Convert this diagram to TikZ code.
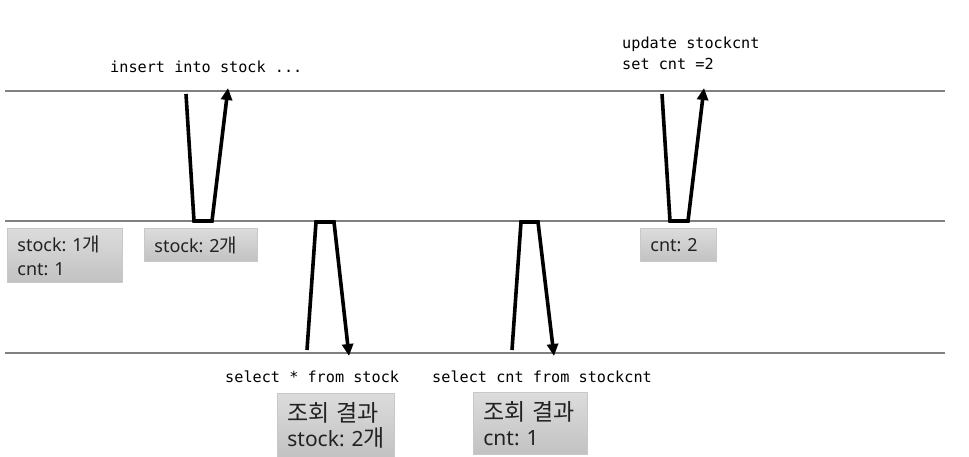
\documentclass[tikz,border=0pt]{standalone}
\usepackage{fontspec}
\setmainfont{Noto Sans}
\setmonofont{DejaVu Sans Mono}
\newfontfamily\krfont{Noto Sans CJK KR}
\newcommand{\kor}[1]{{\krfont\fontsize{\korsize}{\korsize}\selectfont #1}}
\newcommand{\korsize}{19}
\frenchspacing
\usetikzlibrary{arrows.meta}
\definecolor{lanegray}{HTML}{808080}
\definecolor{boxtop}{HTML}{DCDCDC}
\definecolor{boxbot}{HTML}{C2C2C2}
\definecolor{boxedge}{HTML}{C8C8C8}
\definecolor{txt}{HTML}{222222}
\tikzset{
  lane/.style={draw=lanegray, line width=2.6pt},
  flow/.style={draw=black, line width=3.6pt, line join=miter},
  flowarrow/.style={flow, -{Triangle[length=12pt,width=11pt]}},
  sql/.style={font=\ttfamily\fontsize{15.2}{21}\selectfont, text=black, inner sep=0pt, align=left},
  valbox/.style={draw=boxedge, line width=0.8pt, top color=boxtop, bottom color=boxbot,
    font=\frenchspacing\fontsize{18}{24}\selectfont\renewcommand{\korsize}{19}, text=txt, align=left, anchor=north west,
    inner xsep=10pt, inner ysep=0pt},
  resbox/.style={valbox, font=\frenchspacing\fontsize{21}{25}\selectfont\renewcommand{\korsize}{23}, inner xsep=10pt},
}
\begin{document}
\begin{tikzpicture}[x=1pt,y=-1pt]
\useasboundingbox (0,0) rectangle (969,456);
% lanes
\coordinate (t1) at (5,91); \coordinate (t2) at (945,91);
\coordinate (m1) at (5,221); \coordinate (m2) at (945,221);
\coordinate (b1) at (5,353); \coordinate (b2) at (945,353);
\draw[lane] (t1) -- (t2);
\draw[lane] (m1) -- (m2);
\draw[lane] (b1) -- (b2);

% insert
\coordinate (ia) at (186,94);
\coordinate (ib) at (194,221);
\coordinate (ic) at (212,221);
\coordinate (id) at (228,88);
\draw[flowarrow] (ia) -- (ib) -- (ic) -- (id);

% update
\coordinate (ua) at (662,94);
\coordinate (ub) at (670,221);
\coordinate (uc) at (688,221);
\coordinate (ud) at (704,88);
\draw[flowarrow] (ua) -- (ub) -- (uc) -- (ud);

% select 1
\coordinate (sa) at (307,350);
\coordinate (sb) at (316,222);
\coordinate (sc) at (334,222);
\coordinate (sd) at (349,356);
\draw[flowarrow] (sa) -- (sb) -- (sc) -- (sd);

% select 2
\coordinate (ra) at (512,350);
\coordinate (rb) at (521,222);
\coordinate (rc) at (538,222);
\coordinate (rd) at (554,356);
\draw[flowarrow] (ra) -- (rb) -- (rc) -- (rd);

% sql texts
\node[sql, anchor=west] (qins) at (110,67) {insert into stock ...};
\node[sql, anchor=north west] (qupd) at (622,37) {update stockcnt\\set cnt =2};
\node[sql, anchor=west] (qsel1) at (225,377) {select * from stock};
\node[sql, anchor=west] (qsel2) at (432,377) {select cnt from stockcnt};

% value boxes
\node[valbox, minimum width=115pt, minimum height=54pt, text width=95pt] (v1) at (7,228) {stock:~1\kor{개}\\cnt: 1};
\node[valbox, minimum width=113pt, minimum height=33pt, text width=93pt] (v2) at (144,228) {stock:~2\kor{개}};
\node[valbox, minimum width=76pt, minimum height=33pt, text width=56pt] (v3) at (640,228) {cnt: 2};
\node[resbox, minimum width=117pt, minimum height=64pt, text width=97pt] (r1) at (277,393) {\kor{조회 결과}\\stock:~2\kor{개}};
\node[resbox, minimum width=114pt, minimum height=62pt, text width=94pt] (r2) at (473,392) {\kor{조회 결과}\\cnt: 1};
\end{tikzpicture}
\end{document}
